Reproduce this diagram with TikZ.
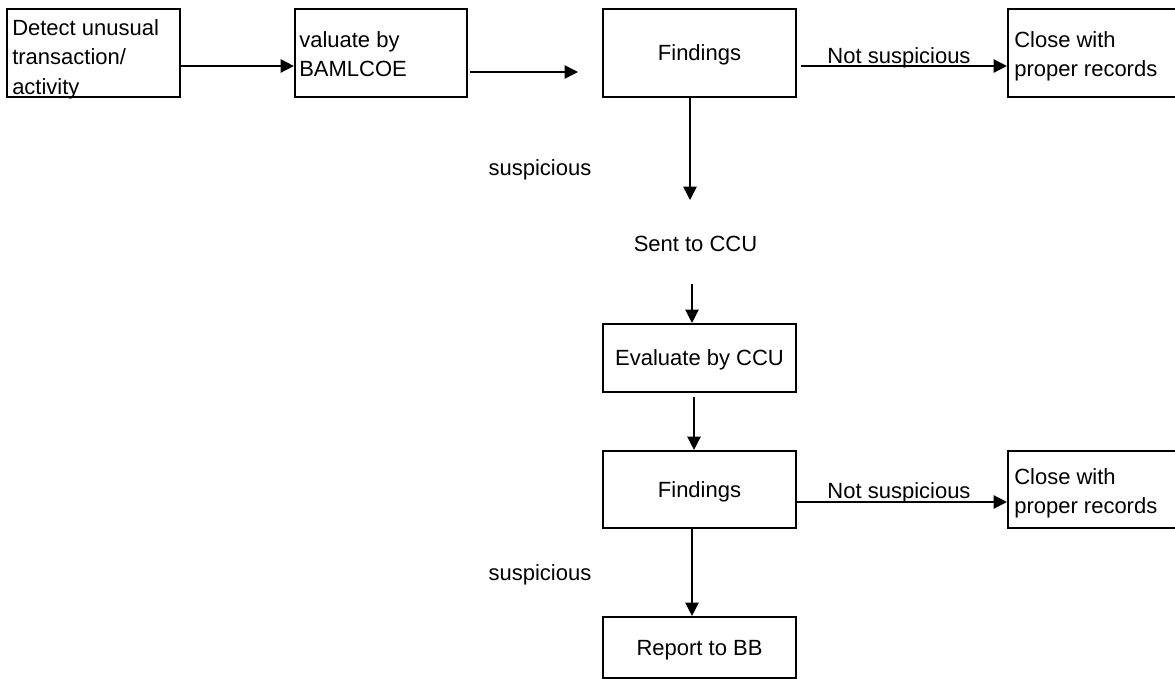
\documentclass[tikz,border=0pt]{standalone}
\usepackage{fontspec}
\setmainfont{Liberation Sans}
\usetikzlibrary{arrows.meta}
\tikzset{
  box/.style={draw=black, line width=1.6pt, rectangle, inner sep=0pt},
  txt/.style={anchor=north west, align=left, inner sep=0pt},
  ctr/.style={text depth=0pt},
  lbl/.style={anchor=base, inner sep=0pt},
  arr/.style={-{Triangle[length=10pt,width=10pt]}, line width=1.1pt},
}
\begin{document}
\begin{tikzpicture}[x=0.75pt, y=-0.75pt, font=\fontsize{16.5pt}{22pt}\selectfont]
\path[use as bounding box, fill=white] (0,0) rectangle (1175,679);

% boxes
\node[box, minimum width=129.75pt, minimum height=66pt] (b1) at (93.5,53) {};
\node[txt] (t1) at (12,19.25) {Detect unusual\\transaction/\\activity};
\node[box, minimum width=129pt, minimum height=66pt] (b2) at (381,53) {};
\node[txt] (t2) at (299,31.25) {valuate by\\BAMLCOE};
\node[box, ctr, minimum width=144.75pt, minimum height=66pt] (f1) at (699.5,53) {Findings};
\node[box, minimum width=132.75pt, minimum height=66pt] (c1) at (1096.5,53) {};
\node[txt] (tc1) at (1014,31.25) {Close with\\proper records};
\node[box, ctr, minimum width=144.75pt, minimum height=51pt] (ev) at (699.5,358) {Evaluate by CCU};
\node[box, ctr, minimum width=144.75pt, minimum height=57.75pt] (f2) at (699.5,489.5) {Findings};
\node[box, minimum width=132.75pt, minimum height=57.75pt] (c2) at (1096.5,489.5) {};
\node[txt] (tc2) at (1014,468.25) {Close with\\proper records};
\node[box, ctr, minimum width=144.75pt, minimum height=45.75pt] (rep) at (699.5,647.5) {Report to BB};

% labels
\node[lbl] (ns1) at (899,63) {Not suspicious};
\node[lbl] (ns2) at (899,498) {Not suspicious};
\node[lbl] (s1) at (540,175) {suspicious};
\node[lbl] (s2) at (540,580) {suspicious};
\node[lbl] (sent) at (695.5,251) {Sent to CCU};

% helper coordinates
\coordinate (r1) at (0,66);
\coordinate (r2) at (0,502);
\coordinate (a2s) at (470,72);
\coordinate (a2e) at (578,72);
\coordinate (d1) at (690,200);
\coordinate (d2) at (692,284);
\coordinate (d3) at (694,397);
\coordinate (d4) at (692,0);

% connectors
\draw[arr] (b1.east |- r1) -- (b2.west |- r1);
\draw[arr] (a2s) -- (a2e);
\draw[arr, shorten <=3pt] (f1.east |- r1) -- (c1.west |- r1);
\draw[arr] (f1.south -| d1) -- (d1);
\draw[arr] (d2) -- (ev.north -| d2);
\draw[arr] (d3) -- (f2.north -| d3);
\draw[arr] (f2.east |- r2) -- (c2.west |- r2);
\draw[arr] (f2.south -| d4) -- (rep.north -| d4);
\end{tikzpicture}
\end{document}
